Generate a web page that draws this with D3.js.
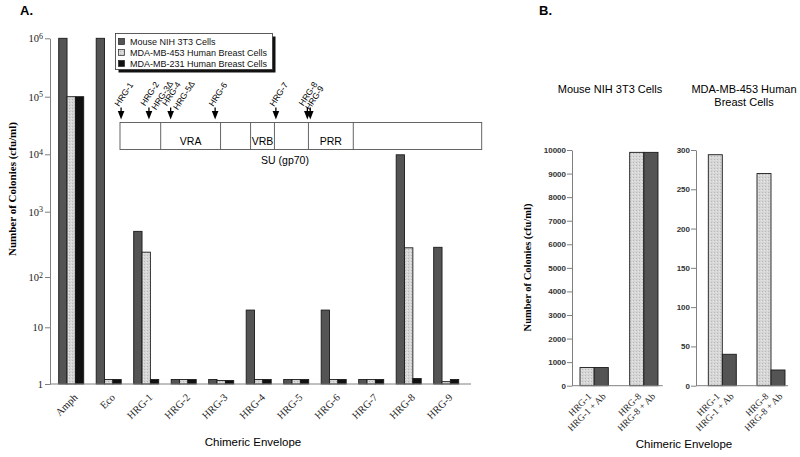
<!DOCTYPE html>
<html><head><meta charset="utf-8">
<script src="https://cdn.jsdelivr.net/npm/d3@7"></script>
<style>body{margin:0;background:#fff}</style>
</head><body>
<svg id="c" width="800" height="457"></svg>
<script>
// ---------- DATA ----------
const categoriesA = ["Amph","Eco","HRG-1","HRG-2","HRG-3","HRG-4","HRG-5","HRG-6","HRG-7","HRG-8","HRG-9"];
const seriesNames = ["Mouse NIH 3T3 Cells","MDA-MB-453 Human Breast Cells","MDA-MB-231 Human Breast Cells"];
const mouseNIH3T3 = [1e6, 1e6, 500, 1.2, 1.2, 22, 1.2, 22, 1.2, 9800, 285];
const mda453      = [1e5, 1.2, 240, 1.2, 1.15, 1.2, 1.2, 1.2, 1.2, 280, 1.1];
const mda231      = [1e5, 1.2, 1.2, 1.2, 1.15, 1.2, 1.2, 1.2, 1.2, 1.25, 1.2];
const logTicks = [1, 10, 100, 1e3, 1e4, 1e5, 1e6];

// SU (gp70) map, positions in % of SU length
const suBoundaries = [0, 11.25, 27.8, 36.1, 42.7, 52.1, 64.5, 100];
const suRegions = [{label:"VRA", from:11.25, to:27.8},{label:"VRB", from:36.1, to:42.7},{label:"PRR", from:52.1, to:64.5}];
const suMarkers = [
  {label:"HRG-1", pos:0.3},{label:"HRG-2", pos:8.0},{label:"HRG-3Δ", pos:8.0},
  {label:"HRG-4", pos:14.0},{label:"HRG-5Δ", pos:14.0},{label:"HRG-6", pos:26.3},
  {label:"HRG-7", pos:43.1},{label:"HRG-8", pos:51.8},{label:"HRG-9", pos:52.6}
];

const groupsB = ["HRG-1","HRG-8"];
const conditionsB = ["", " + Ab"];
const nihB = [[770, 770],[9900, 9900]];
const mda453B = [[294, 40],[270, 20]];
const ticksNIH = [0,1000,2000,3000,4000,5000,6000,7000,8000,9000,10000];
const ticksMDA = [0,50,100,150,200,250,300];

// ---------- DRAW ----------
const svg = d3.select("#c");
const SERIF = "'Liberation Serif','Times New Roman',serif";
const SANS = "'Liberation Sans',Arial,sans-serif";
const C_DARK = "#545454", C_BLACK = "#111";

const defs = svg.append("defs");
const pat = defs.append("pattern").attr("id","stip").attr("patternUnits","userSpaceOnUse").attr("width",3).attr("height",3);
pat.append("rect").attr("width",3).attr("height",3).attr("fill","#d6d6d6");
pat.append("rect").attr("x",0).attr("y",0).attr("width",1).attr("height",1).attr("fill","#b8b8b8");
pat.append("rect").attr("x",2).attr("y",1).attr("width",1).attr("height",1).attr("fill","#e8e8e8");
const C_LIGHT = "url(#stip)";

svg.append("text").attr("x",20).attr("y",15).attr("font-family",SANS).attr("font-weight","bold").attr("font-size",13).text("A.");
svg.append("text").attr("x",539).attr("y",15).attr("font-family",SANS).attr("font-weight","bold").attr("font-size",13).text("B.");

// Panel A
const yA = d3.scaleLog().domain(logTicks).range([384, 327.3, 277, 211.7, 154.3, 96.7, 38.3]);
const xA = d3.scaleBand().domain(categoriesA).range([58.7, 458.7]).paddingInner(0.333).paddingOuter(0);
const xSub = d3.scaleBand().domain([0,1,2]).range([0, xA.bandwidth()]);
const seriesA = [mouseNIH3T3, mda453, mda231];
const fillsA = [C_DARK, C_LIGHT, C_BLACK];

const gA = svg.append("g");
categoriesA.forEach((c, i) => {
  seriesA.forEach((s, k) => {
    gA.append("rect")
      .attr("x", xA(c) + xSub(k)).attr("width", xSub.bandwidth())
      .attr("y", yA(s[i])).attr("height", yA(1) - yA(s[i]))
      .attr("fill", fillsA[k]).attr("stroke", "#1a1a1a").attr("stroke-width", 0.9);
  });
});

const axA = svg.append("g").attr("transform","translate(50,0)")
  .call(d3.axisLeft(yA).tickValues(logTicks).tickSize(5).tickSizeOuter(0).tickFormat(""));
axA.select(".domain").attr("stroke","#808080");
axA.selectAll(".tick line").attr("stroke","#808080");
axA.selectAll(".tick").each(function(d){
  const e = Math.round(Math.log10(d));
  const t = d3.select(this).append("text").attr("x",-7).attr("dy","0.35em")
    .attr("text-anchor","end").attr("font-family",SERIF).attr("font-size",10.5).attr("fill","#222");
  if (e <= 1) t.text(String(d));
  else { t.append("tspan").text("10"); t.append("tspan").attr("dy","-0.45em").attr("font-size",8).text(String(e)); }
});
svg.append("line").attr("x1",50).attr("x2",471).attr("y1",yA(1)).attr("y2",yA(1)).attr("stroke","#808080");

categoriesA.forEach(c => {
  const cx = xA(c) + xA.bandwidth()/2;
  svg.append("text").attr("transform",`translate(${cx+7},${398}) rotate(-45)`)
    .attr("text-anchor","end").attr("font-family",SERIF).attr("font-size",10.5).attr("fill","#222").text(c);
});
svg.append("text").attr("x",253).attr("y",446).attr("text-anchor","middle").attr("font-family",SANS).attr("font-size",11.5).text("Chimeric Envelope");
svg.append("text").attr("transform","translate(16,189) rotate(-90)").attr("text-anchor","middle")
  .attr("font-family",SERIF).attr("font-weight","bold").attr("font-size",11).text("Number of Colonies (cfu/ml)");

// legend
const lg = svg.append("g");
lg.append("rect").attr("x",118.5).attr("y",36.5).attr("width",157).attr("height",36).attr("fill","#111");
lg.append("rect").attr("x",115.5).attr("y",33.5).attr("width",157).attr("height",36).attr("fill","#fff").attr("stroke","#333").attr("stroke-width",0.8);
seriesNames.forEach((n, k) => {
  const yy = 42 + k*11;
  lg.append("rect").attr("x",118.5).attr("y",yy-3.5).attr("width",6).attr("height",6).attr("fill",fillsA[k]).attr("stroke","#222").attr("stroke-width",0.7);
  lg.append("text").attr("x",130).attr("y",yy+3).attr("font-family",SANS).attr("font-size",9).attr("fill","#111").text(n);
});

// SU map
const xSU = d3.scaleLinear().domain([0,100]).range([120, 481.7]);
const mg = svg.append("g");
mg.append("rect").attr("x",xSU(0)).attr("y",122.5).attr("width",xSU(100)-xSU(0)).attr("height",27).attr("fill","#fff").attr("stroke","#555").attr("stroke-width",0.9);
suBoundaries.slice(1,-1).forEach(b => mg.append("line").attr("x1",xSU(b)).attr("x2",xSU(b)).attr("y1",122.5).attr("y2",149.5).attr("stroke","#555").attr("stroke-width",0.9));
suRegions.forEach(r => mg.append("text").attr("x",(xSU(r.from)+xSU(r.to))/2).attr("y",145).attr("text-anchor","middle").attr("font-family",SANS).attr("font-size",10.5).text(r.label));
mg.append("text").attr("x",285).attr("y",164).attr("text-anchor","middle").attr("font-family",SANS).attr("font-size",10.5).text("SU (gp70)");
let prevX = null;
suMarkers.forEach((m, i) => {
  const ax = xSU(m.pos);
  const prev = suMarkers[i-1], next = suMarkers[i+1];
  const sharedPrev = prev && prev.pos === m.pos;
  const sharedNext = next && next.pos === m.pos;
  if (!sharedPrev) {
    mg.append("line").attr("x1",ax).attr("x2",ax).attr("y1",107.5).attr("y2",112).attr("stroke","#000").attr("stroke-width",1.3);
    mg.append("path").attr("d",`M${ax-3.3},${111}L${ax+3.3},${111}L${ax},${119.5}Z`).attr("fill","#000");
  }
  let lx, ly;
  if (sharedPrev) { lx = prevX + 11; ly = 110.5; }
  else if (prev && m.pos - prev.pos < 2) { lx = ax - 0.5; ly = 110.5; }
  else if (sharedNext || (next && next.pos - m.pos < 2)) { lx = ax - 4; ly = 106.5; }
  else { lx = ax - 2; ly = 107; }
  prevX = lx;
  mg.append("text").attr("transform",`translate(${lx},${ly}) rotate(-57)`).attr("font-family",SANS).attr("font-size",8.5).text(m.label);
});

// Panel B
function panelB(data, ticks, yMax, axisX, xRange, axisEnd, pad) {
  const y = d3.scaleLinear().domain([0, yMax]).range([385.7, 150]);
  const x0 = d3.scaleBand().domain(groupsB).range(xRange).paddingInner(pad).paddingOuter(0);
  const x1 = d3.scaleBand().domain([0,1]).range([0, x0.bandwidth()]);
  const g = svg.append("g");
  groupsB.forEach((gname, gi) => {
    conditionsB.forEach((cond, ci) => {
      const v = data[gi][ci];
      g.append("rect").attr("x", x0(gname)+x1(ci)).attr("width", x1.bandwidth())
        .attr("y", y(v)).attr("height", y(0)-y(v))
        .attr("fill", ci === 0 ? C_LIGHT : C_DARK).attr("stroke","#1a1a1a").attr("stroke-width",0.9);
      const cx = x0(gname)+x1(ci)+x1.bandwidth()/2;
      svg.append("text").attr("transform",`translate(${cx+5},${397}) rotate(-45)`)
        .attr("text-anchor","end").attr("font-family",SERIF).attr("font-size",9.5).attr("fill","#222").text(gname + cond);
    });
  });
  const ax = svg.append("g").attr("transform",`translate(${axisX},0)`)
    .call(d3.axisLeft(y).tickValues(ticks).tickSize(5).tickSizeOuter(0).tickFormat(d3.format("d")));
  ax.select(".domain").attr("stroke","#808080");
  ax.selectAll(".tick line").attr("stroke","#808080");
  ax.selectAll(".tick text").attr("font-family",SANS).attr("font-weight","bold").attr("font-size",8).attr("fill","#333").attr("x",-6);
  svg.append("line").attr("x1",axisX).attr("x2",axisEnd).attr("y1",y(0)).attr("y2",y(0)).attr("stroke","#808080");
}
panelB(nihB, ticksNIH, 10000, 572, [580, 658], 662.7, 0.43);
panelB(mda453B, ticksMDA, 300, 696, [708.3, 785], 788, 0.425);

svg.append("text").attr("x",610).attr("y",92.5).attr("text-anchor","middle").attr("font-family",SANS).attr("font-size",11).text("Mouse NIH 3T3 Cells");
svg.append("text").attr("x",744).attr("y",92.5).attr("text-anchor","middle").attr("font-family",SANS).attr("font-size",11).text("MDA-MB-453 Human");
svg.append("text").attr("x",744).attr("y",106).attr("text-anchor","middle").attr("font-family",SANS).attr("font-size",11).text("Breast Cells");
svg.append("text").attr("x",684).attr("y",448).attr("text-anchor","middle").attr("font-family",SANS).attr("font-size",11.5).text("Chimeric Envelope");
svg.append("text").attr("transform","translate(531,267.5) rotate(-90)").attr("text-anchor","middle")
  .attr("font-family",SERIF).attr("font-weight","bold").attr("font-size",10.5).text("Number of Colonies (cfu/ml)");
</script>
</body></html>
